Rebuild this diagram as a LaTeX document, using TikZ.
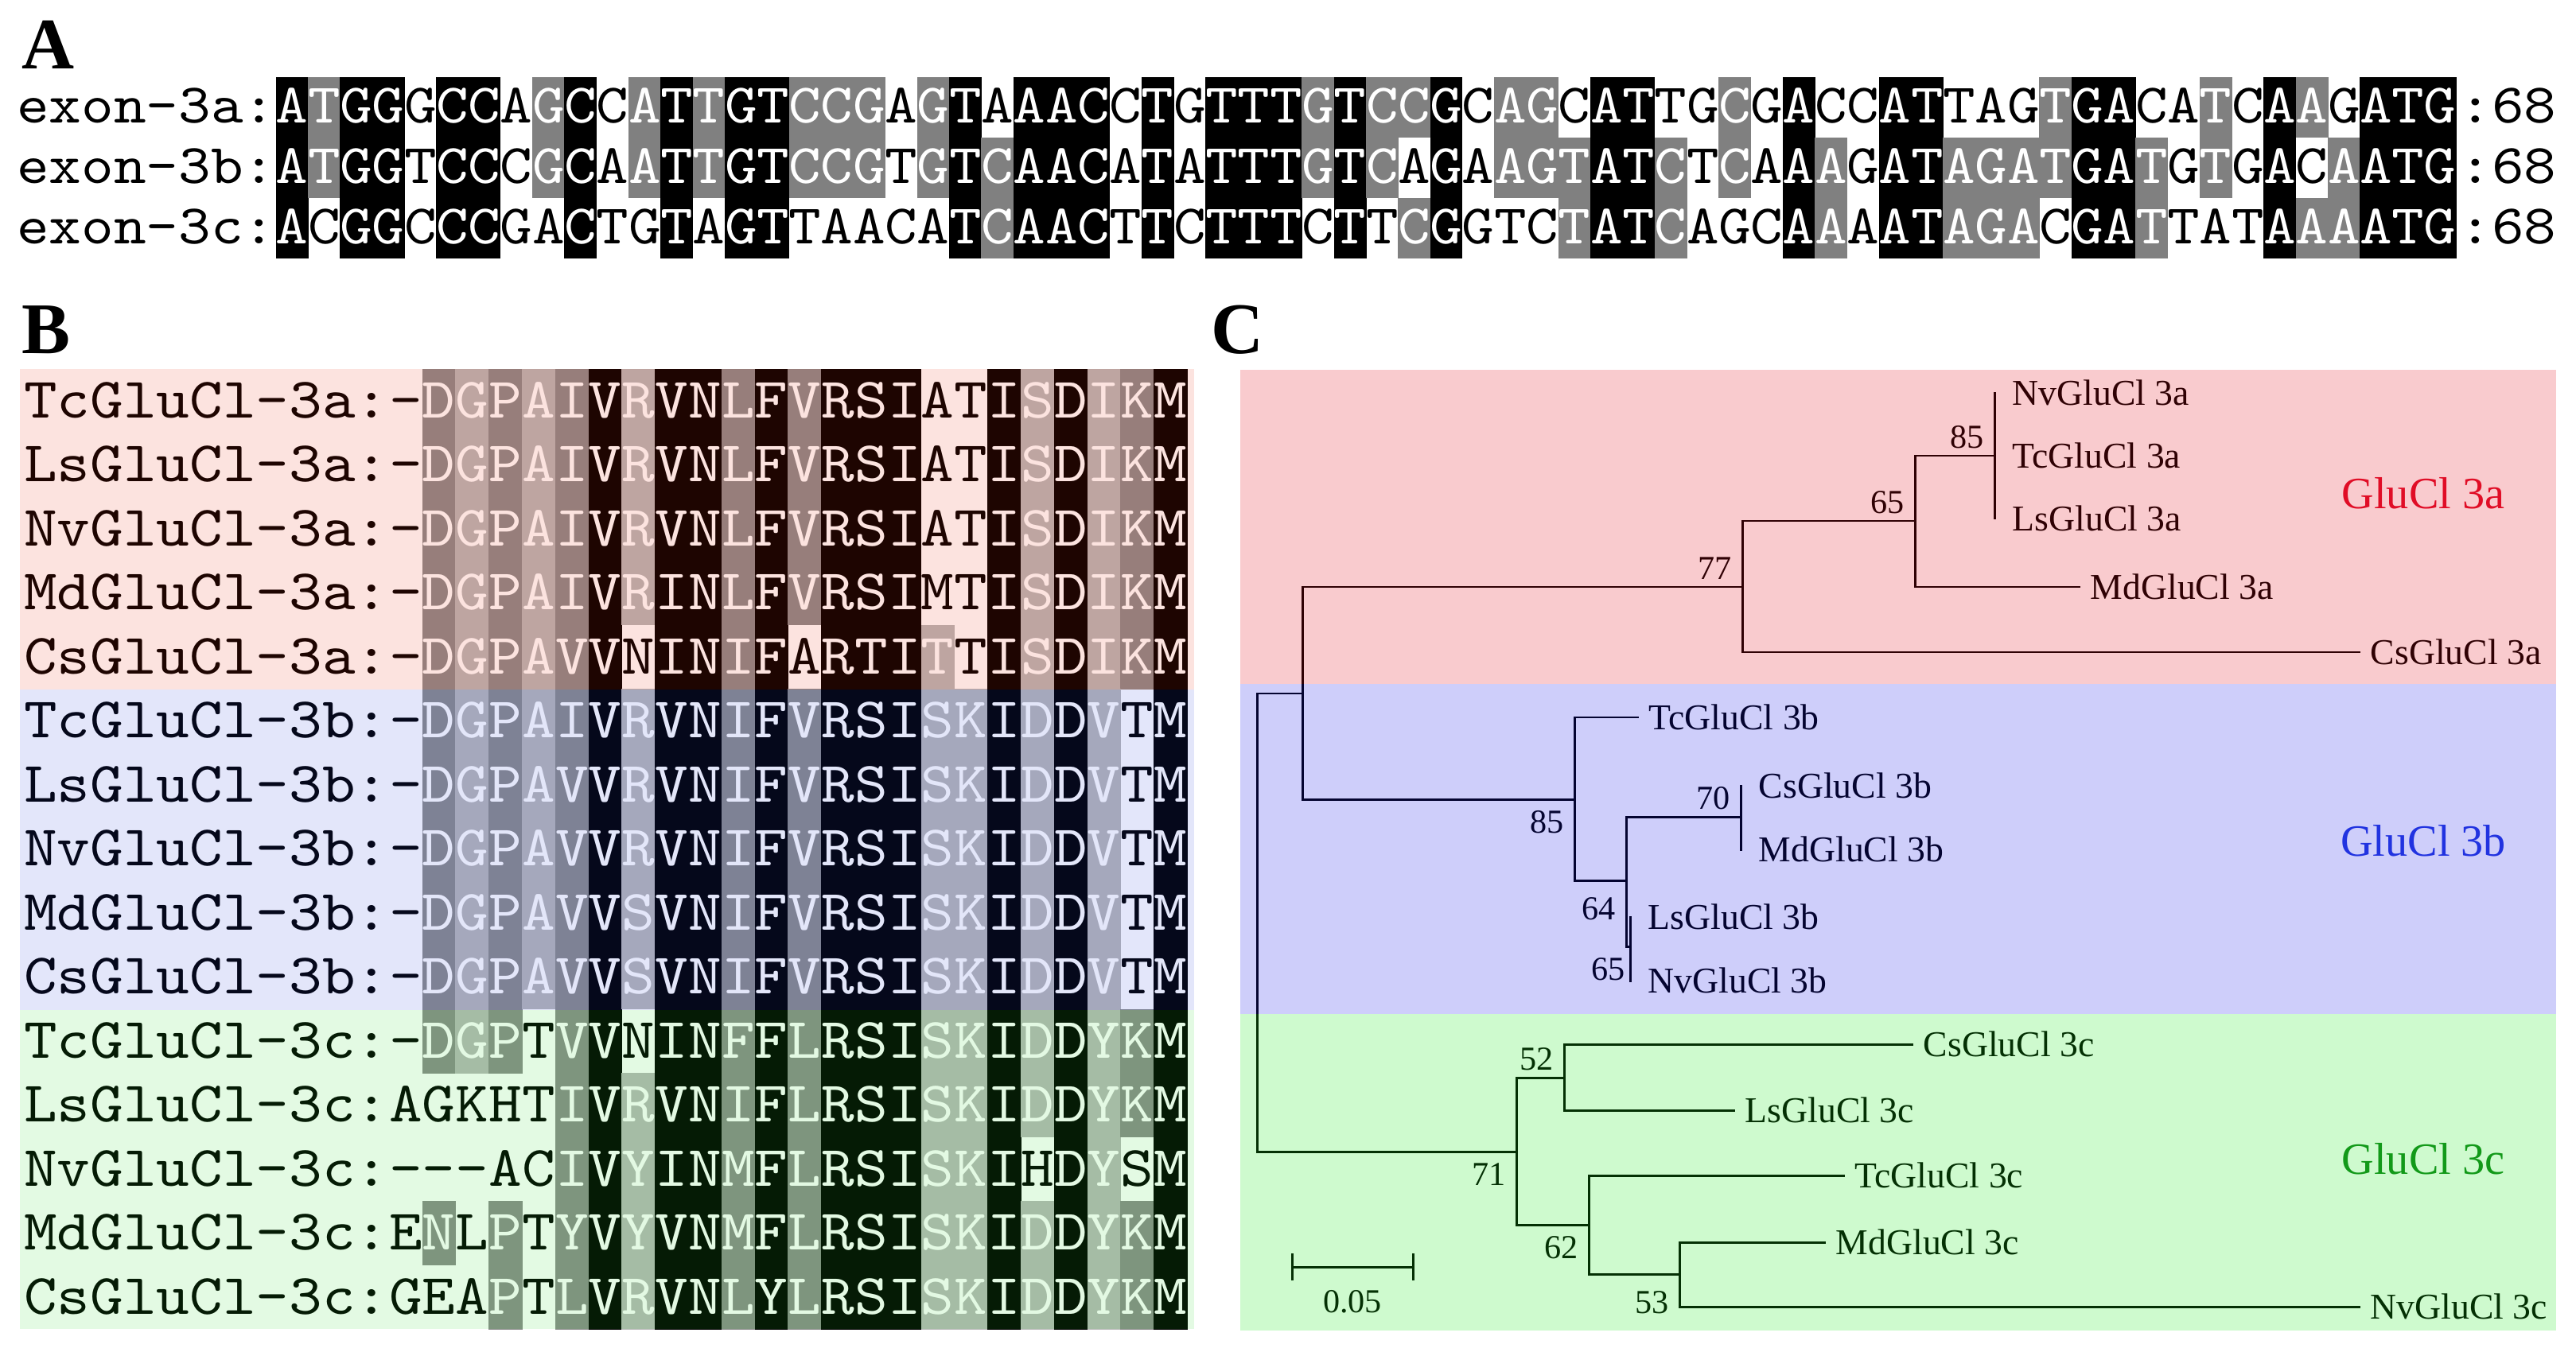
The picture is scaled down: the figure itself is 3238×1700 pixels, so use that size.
\documentclass[tikz,border=0pt]{standalone}
\usepackage{fontspec}
\setmainfont{Liberation Serif}
\newfontfamily\seqmono{lmmono10-regular.otf}[FakeStretch=1.1]
\usepackage{tikz}

\definecolor{exshade1}{gray}{0.5}
\definecolor{exshade2}{gray}{0}
\definecolor{alshade1}{gray}{0.72}
\definecolor{alshade2}{gray}{0.55}
\definecolor{alshade3}{gray}{0.35}
\definecolor{alshade4}{gray}{0}
\definecolor{tintA}{rgb}{0.91,0.154,0.038}
\definecolor{tintB}{rgb}{0.154,0.246,0.846}
\definecolor{tintC}{rgb}{0.154,0.846,0.154}
\definecolor{cladeA}{rgb}{0.886,0.03,0.086}
\definecolor{cladeB}{rgb}{0.086,0.086,0.905}
\definecolor{cladeC}{rgb}{0.086,0.905,0.086}
\definecolor{labA}{rgb}{0.88,0.05,0.15}
\definecolor{labB}{rgb}{0.13,0.2,0.88}
\definecolor{labC}{rgb}{0.07,0.6,0.1}

\ExplSyntaxOn
\cs_new:Npn \seqchar #1#2 { \str_item:Nn #1 {#2} }
\ExplSyntaxOff

\newcommand\exfont{\seqmono\fontsize{20}{20}\selectfont}
\newcommand\alfont{\seqmono\fontsize{20.5}{20.5}\selectfont}

\def\exonA{ATGGGCCAGCCATTGTCCGAGTAAACCTGTTTGTCCGCAGCATTGCGACCATTAGTGACATCAAGATG}
\def\exonB{ATGGTCCCGCAATTGTCCGTGTCAACATATTTGTCAGAAGTATCTCAAAGATAGATGATGTGACAATG}
\def\exonC{ACGGCCCGACTGTAGTTAACATCAACTTCTTTCTTCGGTCTATCAGCAAAATAGACGATTATAAAATG}

\begin{document}
\begin{tikzpicture}[x=0.01cm, y=-0.01cm,
    panel/.style={font=\bfseries\fontsize{26}{26}\selectfont, anchor=base west, inner sep=0},
    seqname/.style={anchor=base east, inner sep=0},
    seqletter/.style={anchor=base, inner sep=0},
    leaf/.style={font=\fontsize{13}{15}\selectfont, anchor=west, inner xsep=4pt, inner ysep=1pt},
    branch/.style={line width=0.85pt, line cap=rect},
    bootup/.style={font=\fontsize{12}{14}\selectfont, anchor=south east, inner sep=0, xshift=-3.5pt, yshift=2.5pt},
    bootdown/.style={font=\fontsize{12}{14}\selectfont, anchor=north east, inner sep=0, xshift=-3.5pt, yshift=-4pt},
    clade/.style={font=\fontsize{16}{18}\selectfont}]
\useasboundingbox (0,0) rectangle (3238,1700);

% A: exon alignment
\node[panel] (pA) at (27,87) {A};
\foreach \nm/\rw in {exon-3a/1, exon-3b/2, exon-3c/3} {
  \node[seqname, font=\exfont] (ex\rw) at (347, {97+76*(\rw-1)+58}) {\nm:};
  \node[seqletter, anchor=base west, font=\exfont] (len\rw) at (3091, {97+76*(\rw-1)+58}) {:68};
}
\foreach \k in {1,...,68} {
  \edef\ca{\seqchar\exonA{\k}}
  \edef\cb{\seqchar\exonB{\k}}
  \edef\cc{\seqchar\exonC{\k}}
  \def\lev{000}
  \ifx\ca\cb
    \ifx\cb\cc \def\lev{222}\else \def\lev{110}\fi
  \else
    \ifx\ca\cc \def\lev{101}\else
      \ifx\cb\cc \def\lev{011}\fi
    \fi
  \fi
  \foreach \rw/\ch in {1/\ca, 2/\cb, 3/\cc} {
    \edef\lv{\seqchar\lev{\rw}}
    \ifnum\lv>0
      \fill[exshade\lv] ({347+40.3*(\k-1)-0.3}, {97+76*(\rw-1)-0.3}) rectangle ({347+40.3*\k+0.3}, {97+76*\rw+0.3});
      \def\tc{white}
    \else
      \def\tc{black}
    \fi
    \node[seqletter, font=\exfont, text=\tc] at ({347+40.3*(\k-0.5)}, {97+76*(\rw-1)+58}) {\ch};
  }
}

% B: protein alignment
\node[panel] (pB) at (27,444) {B};
\foreach \nm/\sq/\sh [count=\rw] in {
  TcGluCl-3a/-DGPAIVRVNLFVRSIATISDIKM/021212414424244400414124,
  LsGluCl-3a/-DGPAIVRVNLFVRSIATISDIKM/021212414424244400414124,
  NvGluCl-3a/-DGPAIVRVNLFVRSIATISDIKM/021212414424244400414124,
  MdGluCl-3a/-DGPAIVRINLFVRSIMTISDIKM/021212414424244400414124,
  CsGluCl-3a/-DGPAVVNINIFARTITTISDIKM/021212404424044410414124,
  TcGluCl-3b/-DGPAIVRVNIFVRSISKIDDVTM/021212414424244411414104,
  LsGluCl-3b/-DGPAVVRVNIFVRSISKIDDVTM/021212414424244411414104,
  NvGluCl-3b/-DGPAVVRVNIFVRSISKIDDVTM/021212414424244411414104,
  MdGluCl-3b/-DGPAVVSVNIFVRSISKIDDVTM/021212414424244411414104,
  CsGluCl-3b/-DGPAVVSVNIFVRSISKIDDVTM/021212414424244411414104,
  TcGluCl-3c/-DGPTVVNINFFLRSISKIDDYKM/021202404424244411414124,
  LsGluCl-3c/AGKHTIVRVNIFLRSISKIDDYKM/000002414424244411414124,
  NvGluCl-3c/---ACIVYINMFLRSISKIHDYSM/000002414424244411404104,
  MdGluCl-3c/ENLPTYVYVNMFLRSISKIDDYKM/020202414424244411414124,
  CsGluCl-3c/GEAPTLVRVNLYLRSISKIDDYKM/000202414424244411414124} {
  \node[seqname, font=\alfont] (al\rw) at (489, {464+80.5*(\rw-1)+61}) {\nm:};
  \foreach \j in {1,...,24} {
    \edef\ch{\seqchar\sq{\j}}
    \edef\lv{\seqchar\sh{\j}}
    \ifnum\lv>0
      \fill[alshade\lv] ({489+41.8*(\j-1)-0.3}, {464+80.5*(\rw-1)-0.3}) rectangle ({489+41.8*\j+0.3}, {464+80.5*\rw+0.3});
      \def\tc{white}
    \else
      \def\tc{black}
    \fi
    \node[seqletter, font=\alfont, text=\tc] at ({489+41.8*(\j-0.5)}, {464+80.5*(\rw-1)+61}) {\ch};
  }
}
\fill[tintA, fill opacity=0.13] (25,464) rectangle (1501,867);
\fill[tintB, fill opacity=0.13] (25,867) rectangle (1501,1270);
\fill[tintC, fill opacity=0.13] (25,1270) rectangle (1501,1671);

% C: tree
\node[panel] (pC) at (1522,444) {C};

\coordinate (root) at (1580,872);
\coordinate (nX) at (1637,872);
\coordinate (n77) at (2190,738);
\coordinate (n65a) at (2407,655);
\coordinate (n85a) at (2507,573);
\coordinate (n85b) at (1979,1005);
\coordinate (n64) at (2044,1107);
\coordinate (n70) at (2188,1027);
\coordinate (n65b) at (2049,1190);
\coordinate (n71) at (1906,1448);
\coordinate (n52) at (1966,1355);
\coordinate (n62) at (1997,1540);
\coordinate (n53) at (2111,1602);

\node[leaf] (Nv3a) at (2515,494) {NvGluCl 3a};
\node[leaf] (Tc3a) at (2515,573) {TcGluCl 3a};
\node[leaf] (Ls3a) at (2515,652) {LsGluCl 3a};
\node[leaf] (Md3a) at (2613,738) {MdGluCl 3a};
\node[leaf] (Cs3a) at (2965,820) {CsGluCl 3a};
\node[leaf] (Tc3b) at (2058,902) {TcGluCl 3b};
\node[leaf] (Cs3b) at (2196,988) {CsGluCl 3b};
\node[leaf] (Md3b) at (2196,1068) {MdGluCl 3b};
\node[leaf] (Ls3b) at (2057,1153) {LsGluCl 3b};
\node[leaf] (Nv3b) at (2057,1233) {NvGluCl 3b};
\node[leaf] (Cs3c) at (2403,1313) {CsGluCl 3c};
\node[leaf] (Ls3c) at (2179,1396) {LsGluCl 3c};
\node[leaf] (Tc3c) at (2317,1478) {TcGluCl 3c};
\node[leaf] (Md3c) at (2293,1562) {MdGluCl 3c};
\node[leaf] (Nv3c) at (2965,1643) {NvGluCl 3c};

\draw[branch] (root) -- (nX);
\draw[branch] (root) |- (n71);
\draw[branch] (nX) |- (n77);
\draw[branch] (nX) |- (n85b);
\draw[branch] (n77) |- (n65a);
\draw[branch] (n77) |- (Cs3a);
\draw[branch] (n65a) |- (n85a);
\draw[branch] (n65a) |- (Md3a);
\draw[branch] (Nv3a.west -| n85a) -- (Ls3a.west -| n85a);
\draw[branch] (n85b) |- (Tc3b);
\draw[branch] (n85b) |- (n64);
\draw[branch] (n64) |- (n70);
\draw[branch] (n64) |- (n65b);
\draw[branch] (Cs3b.west -| n70) -- (Md3b.west -| n70);
\draw[branch] (Ls3b.west -| n65b) -- (Nv3b.west -| n65b);
\draw[branch] (n71) |- (n52);
\draw[branch] (n71) |- (n62);
\draw[branch] (n52) |- (Cs3c);
\draw[branch] (n52) |- (Ls3c);
\draw[branch] (n62) |- (Tc3c);
\draw[branch] (n62) |- (n53);
\draw[branch] (n53) |- (Md3c);
\draw[branch] (n53) |- (Nv3c);

\node[bootup] (b77) at (n77) {77};
\node[bootup] (b65a) at (n65a) {65};
\node[bootup] (b85a) at (n85a) {85};
\node[bootdown] (b85b) at (n85b) {85};
\node[bootdown, yshift=-2pt] (b64) at (n64) {64};
\node[bootup] (b70) at (n70) {70};
\node[bootdown, xshift=2pt] (b65b) at (n65b) {65};
\node[bootdown] (b71) at (n71) {71};
\node[bootup] (b52) at (n52) {52};
\node[bootdown] (b62) at (n62) {62};
\node[bootdown, yshift=-2pt] (b53) at (n53) {53};

\coordinate (sbL) at (1624,1593);
\coordinate (sbR) at (1776,1593);
\draw[branch] (sbL) -- (sbR);
\draw[branch] ([yshift=4.5pt]sbL) -- ([yshift=-4.5pt]sbL);
\draw[branch] ([yshift=4.5pt]sbR) -- ([yshift=-4.5pt]sbR);
\node[font=\fontsize{12}{14}\selectfont, anchor=north, inner sep=0] (sbtxt) at (1700,1622) {0.05};

\fill[cladeA, fill opacity=0.21] (1559,465) rectangle (3213,860);
\fill[cladeB, fill opacity=0.21] (1559,860) rectangle (3213,1275);
\fill[cladeC, fill opacity=0.21] (1559,1275) rectangle (3213,1673);

\node[clade, text=labA] (gA) at (3046,620) {GluCl 3a};
\node[clade, text=labB] (gB) at (3046,1057) {GluCl 3b};
\node[clade, text=labC] (gC) at (3046,1457) {GluCl 3c};
\end{tikzpicture}
\end{document}
